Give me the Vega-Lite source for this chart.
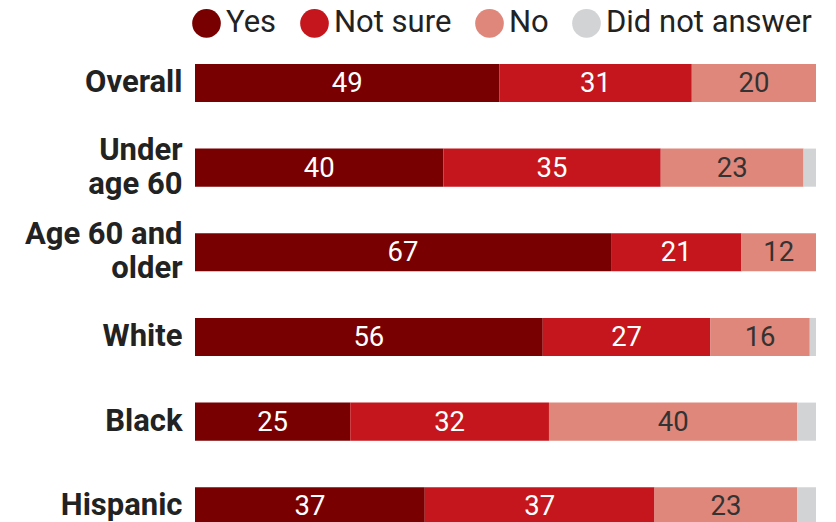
{
  "$schema": "https://vega.github.io/schema/vega-lite/v6.json",
  "autosize": "none",
  "width": 621,
  "height": 508,
  "padding": {"left": 195, "top": 40.65, "right": 20, "bottom": 0},
  "background": "white",
  "config": {"view": {"stroke": null}, "font": "Roboto"},
  "data": {
    "values": [
      {"group": "Overall", "answer": "Yes", "ord": 1, "value": 49},
      {"group": "Overall", "answer": "Not sure", "ord": 2, "value": 31},
      {"group": "Overall", "answer": "No", "ord": 3, "value": 20},
      {"group": "Overall", "answer": "Did not answer", "ord": 4, "value": 0},
      {"group": "Under age 60", "answer": "Yes", "ord": 1, "value": 40},
      {"group": "Under age 60", "answer": "Not sure", "ord": 2, "value": 35},
      {"group": "Under age 60", "answer": "No", "ord": 3, "value": 23},
      {"group": "Under age 60", "answer": "Did not answer", "ord": 4, "value": 2},
      {"group": "Age 60 and older", "answer": "Yes", "ord": 1, "value": 67},
      {"group": "Age 60 and older", "answer": "Not sure", "ord": 2, "value": 21},
      {"group": "Age 60 and older", "answer": "No", "ord": 3, "value": 12},
      {"group": "Age 60 and older", "answer": "Did not answer", "ord": 4, "value": 0},
      {"group": "White", "answer": "Yes", "ord": 1, "value": 56},
      {"group": "White", "answer": "Not sure", "ord": 2, "value": 27},
      {"group": "White", "answer": "No", "ord": 3, "value": 16},
      {"group": "White", "answer": "Did not answer", "ord": 4, "value": 1},
      {"group": "Black", "answer": "Yes", "ord": 1, "value": 25},
      {"group": "Black", "answer": "Not sure", "ord": 2, "value": 32},
      {"group": "Black", "answer": "No", "ord": 3, "value": 40},
      {"group": "Black", "answer": "Did not answer", "ord": 4, "value": 3},
      {"group": "Hispanic", "answer": "Yes", "ord": 1, "value": 37},
      {"group": "Hispanic", "answer": "Not sure", "ord": 2, "value": 37},
      {"group": "Hispanic", "answer": "No", "ord": 3, "value": 23},
      {"group": "Hispanic", "answer": "Did not answer", "ord": 4, "value": 3}
    ]
  },
  "transform": [
    {"stack": "value", "groupby": ["group"], "sort": [{"field": "ord", "order": "ascending"}], "as": ["v0", "v1"]},
    {"calculate": "(datum.v0 + datum.v1) / 2", "as": "mid"}
  ],
  "encoding": {
    "y": {
      "field": "group",
      "type": "nominal",
      "sort": ["Overall", "Under age 60", "Age 60 and older", "White", "Black", "Hispanic"],
      "scale": {"paddingInner": 0.55, "paddingOuter": 0.275},
      "axis": {
        "title": null,
        "domain": false,
        "ticks": false,
        "labelPadding": 13,
        "labelFont": "Roboto",
        "labelFontWeight": "bold",
        "labelFontSize": 31,
        "labelColor": "#222222",
        "labelLineHeight": 34,
        "labelLimit": 300,
        "labelOffset": {"condition": {"test": "datum.value == 'Under age 60' || datum.value == 'Age 60 and older'", "value": -17}, "value": 0},
        "labelExpr": "datum.value == 'Under age 60' ? ['Under', 'age 60'] : datum.value == 'Age 60 and older' ? ['Age 60 and', 'older'] : datum.value"
      }
    }
  },
  "layer": [
    {
      "mark": {"type": "bar"},
      "encoding": {
        "x": {"field": "v0", "type": "quantitative", "scale": {"domain": [0, 100], "nice": false}, "axis": null},
        "x2": {"field": "v1"},
        "color": {
          "field": "answer",
          "type": "nominal",
          "scale": {
            "domain": ["Yes", "Not sure", "No", "Did not answer"],
            "range": ["#780000", "#C4161C", "#E0877B", "#D1D3D4"]
          },
          "legend": {
            "title": null,
            "orient": "none",
            "direction": "horizontal",
            "legendX": -4,
            "legendY": -33,
            "symbolType": "circle",
            "symbolSize": 820,
            "symbolStrokeWidth": 0,
            "symbolOpacity": 1,
            "labelFont": "Roboto",
            "labelFontSize": 31,
            "labelColor": "#222222",
            "labelOffset": 4,
            "columnPadding": 22,
            "labelLimit": 400
          }
        }
      }
    },
    {
      "mark": {"type": "text", "font": "Roboto", "fontSize": 27.5, "baseline": "middle", "align": "center", "dy": 1},
      "transform": [{"filter": "datum.answer != 'Did not answer'"}],
      "encoding": {
        "x": {"field": "mid", "type": "quantitative"},
        "text": {"field": "value", "type": "quantitative"},
        "color": {
          "condition": {"test": "datum.answer == 'No'", "value": "#333333"},
          "value": "#ffffff"
        }
      }
    }
  ]
}
